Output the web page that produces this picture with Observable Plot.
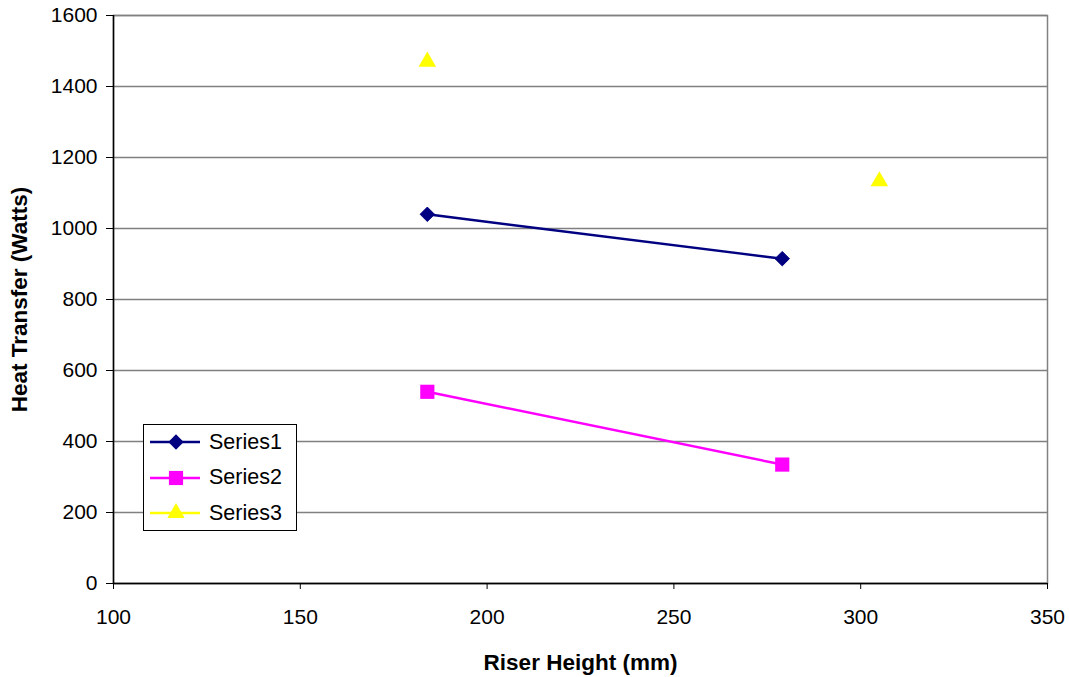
<!DOCTYPE html>
<html>
<head>
<meta charset="utf-8">
<script src="https://cdn.jsdelivr.net/npm/d3@7"></script>
<script src="https://cdn.jsdelivr.net/npm/@observablehq/plot@0.6"></script>
<style>
  html, body { margin: 0; padding: 0; background: #fff; }
  #wrap { position: relative; width: 1069px; height: 677px; font-family: "Liberation Sans", Arial, sans-serif; }
  #legend { position: absolute; left: 143px; top: 424px; width: 154px; height: 107px; border: 1px solid #000; background: #fff; box-sizing: border-box; }
  #legend .row { position: absolute; left: 6px; height: 24px; display: flex; align-items: center; }
  #legend .row span { font-size: 21.5px; margin-left: 9px; color: #000; }
</style>
</head>
<body>
<div id="wrap"></div>
<script>
// Data
const series1X = [184, 279];
const series1Y = [1040, 915];
const series2X = [184, 279];
const series2Y = [540, 335];
const series3X = [184, 305];
const series3Y = [1470, 1133];
const seriesNames = ["Series1", "Series2", "Series3"];
const seriesColors = ["#000080", "#FF00FF", "#FFFF00"];
const xTicks = [100, 150, 200, 250, 300, 350];
const yTicks = [0, 200, 400, 600, 800, 1000, 1200, 1400, 1600];

const toRows = (xs, ys) => xs.map((x, i) => ({x, y: ys[i]}));
const s1 = toRows(series1X, series1Y);
const s2 = toRows(series2X, series2Y);
const s3 = toRows(series3X, series3Y);

const chart = Plot.plot({
  width: 1069,
  height: 677,
  marginLeft: 113,
  marginRight: 22,
  marginTop: 15,
  marginBottom: 94,
  style: {fontFamily: "'Liberation Sans', Arial, sans-serif", fontSize: "21px", color: "#000", background: "#fff"},
  x: {domain: [100, 350], ticks: xTicks},
  y: {domain: [0, 1600], ticks: yTicks},
  marks: [
    Plot.gridY(yTicks, {stroke: "#808080", strokeOpacity: 1, strokeWidth: 1.5}),
    Plot.frame({stroke: "#808080", strokeWidth: 1.5}),
    Plot.axisY(yTicks, {tickSize: 7, tickPadding: 9, stroke: "#000", fontSize: 21, label: null, tickFormat: d3.format("d")}),
    Plot.axisX(xTicks, {tickSize: 6, tickPadding: 20, stroke: "#000", fontSize: 21, label: null, tickFormat: d3.format("d")}),
    Plot.ruleX([100], {stroke: "#000", strokeWidth: 1.5}),
    Plot.ruleY([0], {stroke: "#000", strokeWidth: 1.5}),
    Plot.text(["Riser Height (mm)"], {frameAnchor: "bottom", dy: 86, fontWeight: "bold", fontSize: 22.5, lineAnchor: "bottom"}),
    Plot.text(["Heat Transfer (Watts)"], {frameAnchor: "left", dx: -94, rotate: -90, textAnchor: "middle", fontWeight: "bold", fontSize: 22.5}),
    Plot.line(s1, {x: "x", y: "y", stroke: seriesColors[0], strokeWidth: 2.5}),
    Plot.line(s2, {x: "x", y: "y", stroke: seriesColors[1], strokeWidth: 2.5}),
    Plot.dot(s1, {x: "x", y: "y", symbol: "diamond2", fill: seriesColors[0], stroke: seriesColors[0], strokeWidth: 1, r: 6.5}),
    Plot.dot(s2, {x: "x", y: "y", symbol: "square", fill: seriesColors[1], r: 8}),
    Plot.dot(s3, {x: "x", y: "y", symbol: "triangle", fill: seriesColors[2], r: 6.5})
  ]
});

const wrap = document.getElementById("wrap");
wrap.appendChild(chart);

// Legend
const legend = document.createElement("div");
legend.id = "legend";
const symbols = [d3.symbolDiamond2, d3.symbolSquare, d3.symbolTriangle];
const sizes = [150, 200, 130];
seriesNames.forEach((name, i) => {
  const row = document.createElement("div");
  row.className = "row";
  row.style.top = (5 + i * 35.5) + "px";
  const svg = d3.create("svg").attr("width", 50).attr("height", 24);
  svg.append("line").attr("x1", 0).attr("x2", 50).attr("y1", 12).attr("y2", 12)
    .attr("stroke", seriesColors[i]).attr("stroke-width", 2.5);
  svg.append("path").attr("transform", "translate(26,12)")
    .attr("d", d3.symbol(symbols[i], sizes[i])()).attr("fill", seriesColors[i]);
  row.appendChild(svg.node());
  const label = document.createElement("span");
  label.textContent = name;
  row.appendChild(label);
  legend.appendChild(row);
});
wrap.appendChild(legend);
</script>
</body>
</html>
